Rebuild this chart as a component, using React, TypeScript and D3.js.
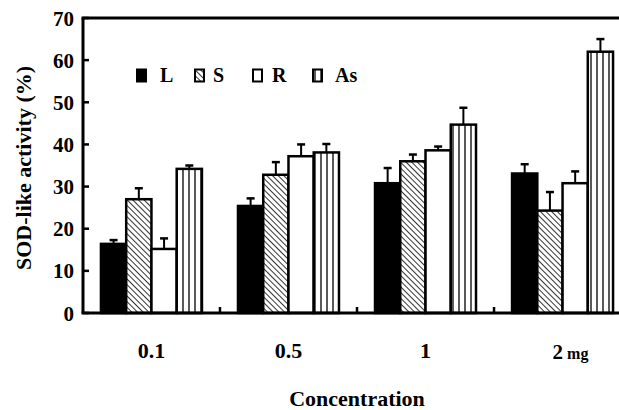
import * as d3 from 'd3';

const concentrations = ['0.1', '0.5', '1', '2'];
const seriesNames = ['L', 'S', 'R', 'As'];
const meanL = [16.4, 25.4, 30.8, 33.1];
const meanS = [27.0, 32.8, 36.0, 24.3];
const meanR = [15.2, 37.2, 38.6, 30.8];
const meanAs = [34.2, 38.1, 44.7, 62.0];
const errL = [0.9, 1.8, 3.6, 2.2];
const errS = [2.6, 3.0, 1.6, 4.4];
const errR = [2.5, 2.8, 0.9, 2.8];
const errAs = [0.8, 2.0, 4.0, 3.0];
const yTicks = [0, 10, 20, 30, 40, 50, 60, 70];

const means = [meanL, meanS, meanR, meanAs];
const errs = [errL, errS, errR, errAs];
const fills = ['#000', 'url(#diag)', '#fff', 'url(#vert)'];

const W = 619;
const H = 410;
const left = 83;
const top = 18;
const bottom = 313;
// unquoted family names, the quoted form did not resolve here
const txt = { fontFamily: 'Liberation Serif, Times New Roman, serif', fontWeight: 'bold' as const };

export default function App() {
  const y = d3.scaleLinear().domain([0, 70]).range([bottom, top]);
  const x = d3.scaleBand<string>().domain(concentrations).range([left, 631]).paddingInner(0.263).paddingOuter(0.131);
  const xs = d3.scaleBand<string>().domain(seriesNames).range([0, x.bandwidth()]);

  const dividers = concentrations.slice(1).map(c => (x(c) as number) - (x.step() - x.bandwidth()) / 2);

  return (
    <svg width={W} height={H} style={{ position: 'absolute', left: 0, top: 0, background: '#fff' }}>
      <defs>
        <pattern id="diag" width="4" height="4" patternUnits="userSpaceOnUse" patternTransform="rotate(-45)">
          <rect width="4" height="4" fill="#fff" />
          <line x1="0" y1="0" x2="0" y2="4" stroke="#000" strokeWidth="1.6" />
        </pattern>
        <pattern id="vert" width="6" height="6" patternUnits="userSpaceOnUse" x="2">
          <rect width="6" height="6" fill="#fff" />
          <line x1="1" y1="0" x2="1" y2="6" stroke="#000" strokeWidth="1.3" />
        </pattern>
      </defs>

      {concentrations.map((c, ci) =>
        seriesNames.map((s, si) => {
          const bx = (x(c) as number) + (xs(s) as number);
          const bw = xs.bandwidth();
          const v = means[si][ci];
          const e = errs[si][ci];
          const cx = bx + bw / 2;
          return (
            <g key={c + s}>
              <line x1={cx} x2={cx} y1={y(v)} y2={y(v + e)} stroke="#000" strokeWidth={2} />
              <line x1={cx - 4} x2={cx + 4} y1={y(v + e)} y2={y(v + e)} stroke="#000" strokeWidth={2.5} />
              <rect x={bx} y={y(v)} width={bw} height={bottom - y(v)} fill={fills[si]} stroke="#000" strokeWidth={2.5} />
            </g>
          );
        })
      )}

      {/* frame */}
      <line x1={left} x2={left} y1={top} y2={bottom} stroke="#000" strokeWidth={3} />
      <line x1={left - 1.5} x2={W} y1={top} y2={top} stroke="#000" strokeWidth={3} />
      <line x1={left - 1.5} x2={W} y1={bottom} y2={bottom} stroke="#000" strokeWidth={3} />

      {yTicks.map(t => (
        <g key={t}>
          <line x1={left} x2={left + 6} y1={y(t)} y2={y(t)} stroke="#000" strokeWidth={2.5} />
          <text x={74} y={y(t) + 7.5} textAnchor="end" fontSize={21} style={txt}>{t}</text>
        </g>
      ))}
      {dividers.map((d, i) => (
        <line key={i} x1={d} x2={d} y1={bottom} y2={bottom - 6} stroke="#000" strokeWidth={2.5} />
      ))}

      {concentrations.map((c, i) => {
        const cx = (x(c) as number) + x.bandwidth() / 2;
        if (i === concentrations.length - 1) {
          return (
            <text key={c} x={cx - 10} y={359} fontSize={21} style={txt}>
              {c}<tspan fontSize={16} dx={4}>mg</tspan>
            </text>
          );
        }
        return (
          <text key={c} x={cx} y={358} textAnchor="middle" fontSize={22} style={txt}>{c}</text>
        );
      })}

      {/* legend */}
      {seriesNames.map((s, i) => {
        const lx = [137, 195, 253, 313][i];
        const tx = [160, 213, 272, 335][i];
        return (
          <g key={s}>
            <rect x={lx} y={69.5} width={9} height={12} fill={fills[i]} stroke="#000" strokeWidth={2} />
            <text x={tx} y={82} fontSize={20} style={txt}>{s}</text>
          </g>
        );
      })}

      <text x={357} y={406} textAnchor="middle" fontSize={22} style={txt}>Concentration</text>
      <text transform={`translate(31, 168) rotate(-90)`} textAnchor="middle" fontSize={22} style={txt}>SOD-like activity (%)</text>
    </svg>
  );
}
